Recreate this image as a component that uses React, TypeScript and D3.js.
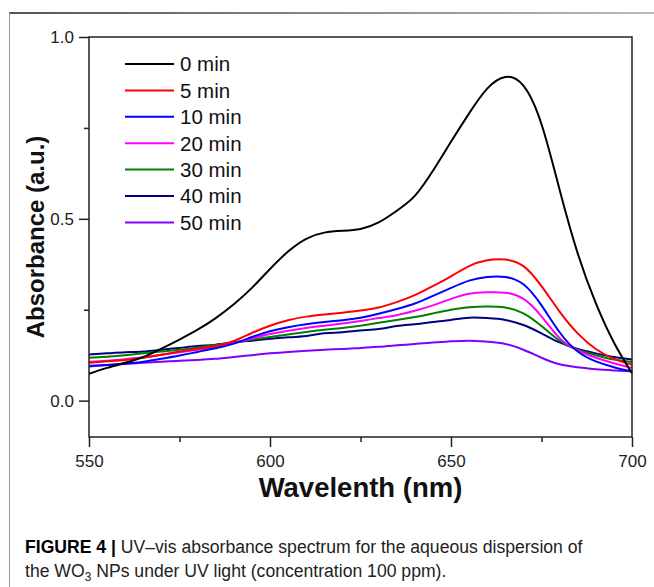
import { useRef, useEffect } from 'react';
import * as d3 from 'd3';

const W = 654;
const H = 587;
const MARGIN = { top: 37, right: 22, bottom: 150, left: 89 };

const WAVELENGTHS = d3.range(550, 701, 5);

const SERIES_LABELS = ['0 min', '5 min', '10 min', '20 min', '30 min', '40 min', '50 min'];
const SERIES_COLORS = ['#000000', '#ff0000', '#0000ff', '#ff00ff', '#008000', '#000080', '#8000ff'];

const ABS_0 = [0.074, 0.090, 0.104, 0.120, 0.143, 0.168, 0.195, 0.227, 0.265, 0.310, 0.362, 0.410, 0.445, 0.462, 0.467, 0.472, 0.490, 0.522, 0.563, 0.632, 0.712, 0.790, 0.858, 0.890, 0.866, 0.760, 0.580, 0.405, 0.268, 0.160, 0.075];
const ABS_5 = [0.104, 0.108, 0.112, 0.118, 0.126, 0.135, 0.143, 0.150, 0.164, 0.186, 0.206, 0.221, 0.231, 0.237, 0.242, 0.248, 0.256, 0.271, 0.290, 0.315, 0.342, 0.370, 0.386, 0.388, 0.370, 0.315, 0.245, 0.185, 0.142, 0.115, 0.099];
const ABS_10 = [0.094, 0.098, 0.102, 0.107, 0.115, 0.124, 0.134, 0.144, 0.157, 0.175, 0.191, 0.202, 0.210, 0.216, 0.221, 0.228, 0.239, 0.252, 0.267, 0.288, 0.310, 0.330, 0.340, 0.340, 0.320, 0.262, 0.188, 0.135, 0.108, 0.092, 0.080];
const ABS_20 = [0.107, 0.110, 0.114, 0.119, 0.126, 0.133, 0.140, 0.147, 0.158, 0.171, 0.183, 0.192, 0.200, 0.206, 0.212, 0.219, 0.227, 0.235, 0.247, 0.262, 0.280, 0.294, 0.298, 0.297, 0.280, 0.232, 0.172, 0.138, 0.118, 0.103, 0.090];
const ABS_30 = [0.118, 0.121, 0.125, 0.130, 0.135, 0.140, 0.146, 0.153, 0.160, 0.168, 0.175, 0.182, 0.189, 0.195, 0.200, 0.206, 0.214, 0.222, 0.230, 0.240, 0.250, 0.257, 0.259, 0.256, 0.240, 0.205, 0.165, 0.140, 0.125, 0.113, 0.106];
const ABS_40 = [0.127, 0.130, 0.133, 0.135, 0.140, 0.145, 0.150, 0.154, 0.160, 0.165, 0.170, 0.174, 0.178, 0.185, 0.188, 0.193, 0.197, 0.205, 0.210, 0.216, 0.222, 0.228, 0.227, 0.222, 0.208, 0.185, 0.160, 0.142, 0.130, 0.120, 0.113];
const ABS_50 = [0.096, 0.098, 0.101, 0.104, 0.107, 0.110, 0.112, 0.115, 0.120, 0.125, 0.130, 0.134, 0.137, 0.140, 0.142, 0.145, 0.148, 0.152, 0.156, 0.160, 0.163, 0.165, 0.162, 0.156, 0.140, 0.118, 0.100, 0.092, 0.086, 0.083, 0.081];

const SERIES_VALUES = [ABS_0, ABS_5, ABS_10, ABS_20, ABS_30, ABS_40, ABS_50];

const X_MAJOR = [550, 600, 650, 700];
const X_MINOR = [575, 625, 675];
const Y_MAJOR = [0, 0.5, 1.0];
const Y_MINOR = [0.25, 0.75];

const FONT = 'Arial, "Liberation Sans", Helvetica, sans-serif';

export default function App() {
  const svgRef = useRef<SVGSVGElement>(null);

  useEffect(() => {
    const svg = d3.select(svgRef.current);
    svg.selectAll('*').remove();

    const innerW = W - MARGIN.left - MARGIN.right;
    const innerH = H - MARGIN.top - MARGIN.bottom;

    const x = d3.scaleLinear().domain([550, 700]).range([0, innerW]);
    const y = d3.scaleLinear().domain([-0.1, 1.0]).range([innerH, 0]);

    // page frame
    const grad = svg.append('defs').append('linearGradient').attr('id', 'frameGrad');
    grad.append('stop').attr('offset', '0%').attr('stop-color', '#555');
    grad.append('stop').attr('offset', '100%').attr('stop-color', '#bbb');
    svg.append('rect').attr('x', 9).attr('y', 12).attr('width', W - 9).attr('height', 2).attr('fill', 'url(#frameGrad)');
    svg.append('line')
      .attr('x1', 9.5).attr('x2', 9.5).attr('y1', 13).attr('y2', H)
      .attr('stroke', '#999').attr('stroke-width', 1);

    const g = svg.append('g').attr('transform', `translate(${MARGIN.left},${MARGIN.top})`);

    // curves
    const line = d3.line<number>()
      .x((_, i) => x(WAVELENGTHS[i]))
      .y(d => y(d))
      .curve(d3.curveNatural);

    SERIES_VALUES.slice().reverse().forEach((vals, ri) => {
      const i = SERIES_VALUES.length - 1 - ri;
      g.append('path')
        .attr('d', line(vals))
        .attr('fill', 'none')
        .attr('stroke', SERIES_COLORS[i])
        .attr('stroke-width', 2);
    });

    // frame box
    g.append('rect')
      .attr('width', innerW).attr('height', innerH)
      .attr('fill', 'none').attr('stroke', '#222').attr('stroke-width', 1.5);

    // x axis
    const xAxisG = g.append('g')
      .attr('transform', `translate(0,${innerH})`)
      .call(d3.axisBottom(x).tickValues(X_MAJOR).tickFormat(d3.format('d')).tickSize(10).tickSizeOuter(0));
    xAxisG.selectAll('text').attr('fill', '#222').attr('font-family', FONT).attr('font-size', '17px').attr('dy', '1.0em');
    xAxisG.selectAll('line').attr('stroke', '#222').attr('stroke-width', 1.5);
    xAxisG.select('.domain').attr('stroke', 'none');

    const xMinorG = g.append('g')
      .attr('transform', `translate(0,${innerH})`)
      .call(d3.axisBottom(x).tickValues(X_MINOR).tickFormat(() => '').tickSize(5).tickSizeOuter(0));
    xMinorG.selectAll('line').attr('stroke', '#222').attr('stroke-width', 1.5);
    xMinorG.select('.domain').attr('stroke', 'none');

    // y axis
    const yAxisG = g.append('g')
      .call(d3.axisLeft(y).tickValues(Y_MAJOR).tickFormat(d3.format('.1f')).tickSize(10).tickPadding(5).tickSizeOuter(0));
    yAxisG.selectAll('text').attr('fill', '#222').attr('font-family', FONT).attr('font-size', '17px');
    yAxisG.selectAll('line').attr('stroke', '#222').attr('stroke-width', 1.5);
    yAxisG.select('.domain').attr('stroke', 'none');

    const yMinorG = g.append('g')
      .call(d3.axisLeft(y).tickValues(Y_MINOR).tickFormat(() => '').tickSize(5).tickSizeOuter(0));
    yMinorG.selectAll('line').attr('stroke', '#222').attr('stroke-width', 1.5);
    yMinorG.select('.domain').attr('stroke', 'none');

    // axis titles
    svg.append('text')
      .attr('x', MARGIN.left + x(625)).attr('y', 497)
      .attr('text-anchor', 'middle')
      .attr('font-family', FONT).attr('font-weight', 'bold').attr('font-size', '27.5px')
      .attr('fill', '#111')
      .text('Wavelenth (nm)');

    svg.append('text')
      .attr('transform', `translate(44,${MARGIN.top + y(0.45)}) rotate(-90)`)
      .attr('text-anchor', 'middle')
      .attr('font-family', FONT).attr('font-weight', 'bold').attr('font-size', '24px')
      .attr('fill', '#111')
      .text('Absorbance (a.u.)');

    // legend
    const legend = g.append('g').attr('transform', 'translate(36,27)');
    SERIES_LABELS.forEach((label, i) => {
      const row = legend.append('g').attr('transform', `translate(0,${i * 26.4})`);
      row.append('line')
        .attr('x1', 0).attr('x2', 49)
        .attr('stroke', SERIES_COLORS[i]).attr('stroke-width', 2);
      row.append('text')
        .attr('x', 55).attr('dy', '0.36em')
        .attr('font-family', FONT).attr('font-size', '20.5px')
        .attr('fill', '#111')
        .text(label);
    });

    // caption
    const cap1 = svg.append('text')
      .attr('x', 25).attr('y', 553)
      .attr('font-family', FONT).attr('font-size', '17.6px').attr('fill', '#222');
    cap1.append('tspan').attr('font-weight', 'bold').attr('fill', '#000').text('FIGURE 4 | ');
    cap1.append('tspan').text('UV\u2013vis absorbance spectrum for the aqueous dispersion of');

    const cap2 = svg.append('text')
      .attr('x', 25).attr('y', 577)
      .attr('font-family', FONT).attr('font-size', '17.6px').attr('fill', '#222');
    cap2.append('tspan').text('the WO');
    cap2.append('tspan').attr('font-size', '12px').attr('dy', 4).text('3');
    cap2.append('tspan').attr('dy', -4).text(' NPs under UV light (concentration 100 ppm).');
  }, []);

  return (
    <div style={{ position: 'fixed', left: 0, top: 0, width: W, height: H, background: '#fff' }}>
      <svg ref={svgRef} width={W} height={H} />
    </div>
  );
}
